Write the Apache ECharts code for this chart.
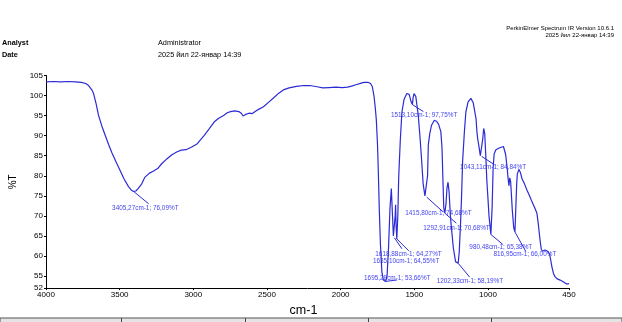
<!DOCTYPE html>
<html>
<head>
<meta charset="utf-8">
<script src="https://cdn.jsdelivr.net/npm/echarts@6/dist/echarts.min.js"></script>
<style>
html,body{margin:0;padding:0;background:#fff;}
#chart{width:622px;height:322px;}
</style>
</head>
<body>
<div id="chart"></div>
<script>
// ---- data ----
const wavenumbers = [4000,3950,3900,3850,3800,3760,3730,3711,3690,3677,3660,3643,3620,3597,3575,3552,3525,3497,3470,3440,3420,3405.27,3390,3375,3350,3330,3300,3270,3242,3215,3180,3148,3110,3081,3050,3014,2990,2973,2950,2926,2890,2859,2830,2792,2770,2747,2720,2691,2675,2662,2645,2622,2600,2591,2560,2524,2490,2456,2420,2389,2350,2300,2250,2210,2160,2121,2080,2032,1990,1953,1920,1897,1860,1841,1815,1797,1785,1774,1765,1758,1750,1745,1738,1730,1720,1710,1695.28,1685,1675,1665,1656,1648,1642,1635.10,1630,1627,1624,1618.88,1612,1606,1595,1584,1570,1551,1535,1522,1513.10,1508,1502,1490,1473,1460,1450,1440,1428,1415.80,1410,1405,1395,1383,1365,1349,1335,1320,1312,1305,1300,1292.91,1285,1278,1271,1264,1255,1249,1235,1220,1202.33,1195,1187,1180,1172,1160,1150,1135,1116,1100,1081,1075,1070,1065,1060,1052,1043.11,1036,1029,1022,1014,1008,1002,993,980.48,972,965,958,946,920,895,880,870,864,858,852,846,835,825,816.95,810,805,801,790,780,768,750,735,718,701,685,668,660,652,645,638,630,623,614,605,595,582,574,566,555,544,530,510,490,477,465,455,450];
const transmittance = [103.4,103.5,103.4,103.5,103.4,103.3,103.0,102.5,101.5,100.5,98,95,92.3,90,87.8,85.7,83.5,81.3,79.2,77.3,76.4,76.09,76.2,76.8,78,79.6,80.6,81.2,81.8,83,84.2,85.2,86,86.4,86.5,87.1,87.6,88,89,90.1,91.8,93.4,94.3,95.1,95.7,96,96.2,96,95.6,94.9,95.3,95.6,95.5,95.7,96.5,97.2,98.3,99.4,100.6,101.4,101.9,102.3,102.5,102.5,102.2,101.9,102.0,102.1,102.0,102.1,102.4,102.7,103.1,103.3,103.3,103.0,102.2,100.0,97,94,88,82,72,63,56,54,53.66,55,62,72,76.8,70,65,64.55,70,72.8,68,64.27,70,79.6,89,95.9,99,100.5,100.3,98.5,97.75,99.5,100.5,99.8,95,89,83.7,78,75,74.68,80,87.7,90.5,92.6,93.8,93.6,92.8,91,87,78,72,70.68,73,77,78.4,76,70,67.4,62,58.6,58.19,61,67.4,74,83.7,91,95.9,98.4,99.3,98.2,94.2,91,89.3,89.6,87,85,84.84,89,91.8,90.5,84.4,79,75.5,70,65.38,72,82,85.5,86.5,87,87.3,85.3,82,79.6,77.5,79.5,78.5,71.5,67,66.0,73,78,80.4,81.6,80.8,79.2,77.8,76.4,75,73.5,72.2,70.7,68.5,65.8,63.5,61.7,61.2,60.9,61.5,61.7,61.2,60.5,59,57.3,55.6,54.8,54.3,54,53.6,53.2,53.0,53.3,53.1];

const xTicks = [4000,3500,3000,2500,2000,1500,1000,450];
const yTicks = [52,55,60,65,70,75,80,85,90,95,100,105];

const peakWn = [3405.27,1513.10,1415.80,1292.91,1618.88,1635.10,1695.28,1202.33,980.48,816.95,1043.11];
const peakT  = [76.09,97.75,74.68,70.68,64.27,64.55,53.66,58.19,65.38,66.00,84.84];

// label layout (pixel offsets of the leader line end and label from the peak)
const leaderDx = [15,11,16.5,11.5,12,7.5,11.5,11.5,12,10.7,12.7];
const leaderDy = [12.3,7,14.8,10,12,11,-1.5,13.8,10,19.2,8.2];
const labelDy  = [16.6,10.5,16.5,15,15.4,23,-3,17.8,12.6,22.5,10.8];

const header = {
  analystLabel: 'Analyst', analyst: 'Administrator',
  dateLabel: 'Date', date: '2025 йил 22-январ 14:39',
  software: 'PerkinElmer Spectrum IR Version 10.6.1'
};

// ---- build ----
const FONT = '"Liberation Sans", Arial, sans-serif';
const LINE = '#2b2bd6';
const LABEL = '#4646f0';
const spectrum = wavenumbers.map((w, i) => [w, transmittance[i]]);
const peaks = peakWn.map((w, i) => [w, peakT[i], i]);
const fmt = v => v.toFixed(2).replace('.', ',');

const chart = echarts.init(document.getElementById('chart'), null, {renderer: 'canvas'});
chart.setOption({
  animation: false,
  backgroundColor: '#fff',
  grid: {left: 39, right: 53, top: 75.5, bottom: 27, containLabel: false},
  xAxis: {
    type: 'value', inverse: true, min: 450, max: 4000,
    name: 'cm-1', nameLocation: 'middle', nameGap: 12,
    nameTextStyle: {fontFamily: FONT, fontSize: 12.5, color: '#000', padding: [0, 8, 0, 0]},
    axisLine: {show: true, onZero: false, lineStyle: {color: '#000', width: 1}},
    axisTick: {show: true, customValues: xTicks, length: 2, lineStyle: {color: '#000'}},
    axisLabel: {customValues: xTicks, formatter: v => String(v), fontFamily: FONT, fontSize: 8, color: '#000', margin: 3},
    splitLine: {show: false}
  },
  yAxis: {
    type: 'value', min: 52, max: 105,
    name: '%T', nameLocation: 'middle', nameGap: 28, nameRotate: 90,
    nameTextStyle: {fontFamily: FONT, fontSize: 10, color: '#000'},
    axisLine: {show: true, onZero: false, lineStyle: {color: '#000', width: 1}},
    axisTick: {show: true, customValues: yTicks, length: 2, lineStyle: {color: '#000'}},
    axisLabel: {customValues: yTicks, formatter: v => String(v), fontFamily: FONT, fontSize: 8, color: '#000', margin: 3},
    splitLine: {show: false}
  },
  graphic: [
    {type: 'text', left: 2, top: 39.5, style: {text: header.analystLabel, font: 'bold 7.3px ' + FONT, fill: '#000'}},
    {type: 'text', left: 2, top: 51.5, style: {text: header.dateLabel, font: 'bold 7.3px ' + FONT, fill: '#000'}},
    {type: 'text', left: 158, top: 39.5, style: {text: header.analyst, font: '7.3px ' + FONT, fill: '#000'}},
    {type: 'text', left: 158, top: 51.5, style: {text: header.date, font: '7.3px ' + FONT, fill: '#000'}},
    {type: 'text', right: 8, top: 25.5, style: {text: header.software, font: '6px ' + FONT, fill: '#000', align: 'right'}},
    {type: 'text', right: 8, top: 32.5, style: {text: header.date, font: '6px ' + FONT, fill: '#000', align: 'right'}},
    {type: 'rect', shape: {x: 0, y: 318, width: 622, height: 6}, style: {fill: '#e4e4e4', stroke: '#555', lineWidth: 1}, silent: true},
    {type: 'line', shape: {x1: 121.5, y1: 318, x2: 121.5, y2: 322}, style: {stroke: '#444', lineWidth: 1}},
    {type: 'line', shape: {x1: 245.5, y1: 318, x2: 245.5, y2: 322}, style: {stroke: '#444', lineWidth: 1}},
    {type: 'line', shape: {x1: 368.5, y1: 318, x2: 368.5, y2: 322}, style: {stroke: '#444', lineWidth: 1}},
    {type: 'line', shape: {x1: 491.5, y1: 318, x2: 491.5, y2: 322}, style: {stroke: '#444', lineWidth: 1}}
  ],
  series: [
    {
      type: 'line', data: spectrum, showSymbol: false, symbol: 'none',
      lineStyle: {color: LINE, width: 1.2}, clip: false, silent: true
    },
    {
      type: 'custom', data: peaks, clip: false, silent: true,
      renderItem: function (params, api) {
        const i = api.value(2);
        const p = api.coord([api.value(0), api.value(1)]);
        const text = fmt(api.value(0)) + 'cm-1; ' + fmt(api.value(1)) + '%T';
        return {
          type: 'group',
          children: [
            {type: 'line', shape: {x1: p[0], y1: p[1], x2: p[0] + leaderDx[i], y2: p[1] + leaderDy[i]},
             style: {stroke: LINE, lineWidth: 1}},
            {type: 'text', x: p[0] - 21.5, y: p[1] + labelDy[i],
             style: {text: text, font: '6.4px ' + FONT, fill: LABEL, verticalAlign: 'middle', align: 'left'}}
          ]
        };
      }
    }
  ]
});
</script>
</body>
</html>
